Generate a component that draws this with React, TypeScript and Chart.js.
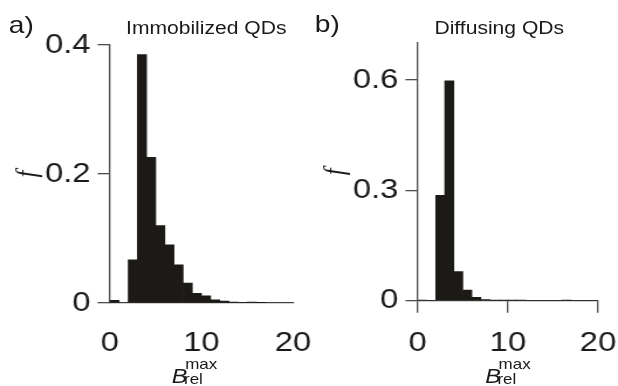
import React, { useEffect, useRef } from 'react';
import { Chart, registerables } from 'chart.js';

Chart.register(...registerables);

// ---- data ----
const binLefts = [0, 1, 2, 3, 4, 5, 6, 7, 8, 9, 10, 11, 12, 13, 14, 15, 16, 17, 18, 19];
const binWidth = 1;
const immobilizedF = [0.004, 0, 0.067, 0.385, 0.226, 0.12, 0.09, 0.059, 0.031, 0.015, 0.011, 0.005, 0.003, 0.0015, 0.001, 0.0015, 0.0005, 0, 0, 0];
const diffusingF = [0.002, 0, 0.286, 0.597, 0.079, 0.029, 0.009, 0.003, 0.001, 0.0005, 0.001, 0.0005, 0, 0, 0, 0, 0.0005, 0, 0, 0];
const xTickValues = [0, 10, 20];
const yTicksA = [0, 0.2, 0.4];
const yTicksB = [0, 0.3, 0.6];
const panelLabels = ['a)', 'b)'];
const panelTitles = ['Immobilized QDs', 'Diffusing QDs'];
const yAxisTitle = 'f';

// ---- style ----
const STRETCH = 618 / 528;
const FONT = "'Liberation Sans', Arial, Helvetica, sans-serif";
const SERIF = "'Liberation Serif', 'Times New Roman', serif";
const BAR = '#1c1a17';
const AXIS = '#4d4d4d';
const TEXT = '#1a1a1a';

type PanelCfg = {
  values: number[];
  yMax: number;
  yTicks: number[];
  canvasLeft: number;
  canvasWidth: number;
  yWidth: number;
  padRight: number;
  padTop: number;
  xHeight: number;
  xLabelPad: number;
  xTickMarks: boolean;
  titlePad: number;
};

function Panel({ cfg }: { cfg: PanelCfg }) {
  const ref = useRef<HTMLCanvasElement | null>(null);
  useEffect(() => {
    if (!ref.current) return;
    const data = binLefts.map((l, i) => ({ x: l + binWidth / 2, y: cfg.values[i] }));
    const chart = new Chart(ref.current, {
      type: 'bar',
      data: {
        datasets: [
          {
            data,
            backgroundColor: BAR,
            borderWidth: 0,
            barPercentage: 1,
            categoryPercentage: 1,
          },
        ],
      },
      options: {
        responsive: false,
        animation: false,
        events: [],
        layout: { padding: { left: 0, right: cfg.padRight, top: cfg.padTop, bottom: 0 } },
        plugins: { legend: { display: false }, tooltip: { enabled: false }, title: { display: false } },
        scales: {
          x: {
            type: 'linear',
            min: 0,
            max: 20,
            offset: false,
            afterBuildTicks: (s: any) => {
              s.ticks = xTickValues.map((v) => ({ value: v }));
            },
            afterFit: (s: any) => {
              s.height = cfg.xHeight;
            },
            grid: {
              display: true,
              drawOnChartArea: false,
              drawTicks: cfg.xTickMarks,
              tickLength: 12,
              offset: false,
              color: AXIS,
              lineWidth: 1.3,
            },
            border: { display: true, color: AXIS, width: 1.3 },
            ticks: {
              font: { family: FONT, size: 28 },
              color: TEXT,
              padding: cfg.xLabelPad,
              maxRotation: 0,
              autoSkip: false,
              callback: (v: any) => String(v),
            },
          },
          y: {
            type: 'linear',
            position: 'left',
            min: 0,
            max: cfg.yMax,
            afterBuildTicks: (s: any) => {
              s.ticks = cfg.yTicks.map((v) => ({ value: v }));
            },
            afterFit: (s: any) => {
              s.width = cfg.yWidth;
            },
            grid: {
              display: true,
              drawOnChartArea: false,
              drawTicks: true,
              tickLength: 10.5,
              color: AXIS,
              lineWidth: 1.3,
            },
            border: { display: true, color: AXIS, width: 1.3 },
            title: {
              display: true,
              text: yAxisTitle,
              color: TEXT,
              font: { family: SERIF, size: 25, style: 'italic' },
              padding: { top: cfg.titlePad, bottom: 0 },
            },
            ticks: {
              font: { family: FONT, size: 28 },
              color: TEXT,
              padding: 6,
              autoSkip: false,
              callback: (v: any) => (Number(v) === 0 ? '0' : Number(v).toFixed(1)),
            },
          },
        },
      } as any,
    });
    return () => chart.destroy();
  }, [cfg]);
  return (
    <canvas
      ref={ref}
      width={cfg.canvasWidth}
      height={386}
      style={{ position: 'absolute', left: cfg.canvasLeft, top: 0, width: cfg.canvasWidth, height: 386 }}
    />
  );
}

const panelA: PanelCfg = {
  values: immobilizedF,
  yMax: 0.4,
  yTicks: yTicksA,
  canvasLeft: 0,
  canvasWidth: 290,
  yWidth: 93.9,
  padRight: 39.7,
  padTop: 45,
  xHeight: 83,
  xLabelPad: 23,
  xTickMarks: false,
  titlePad: 9.8,
};

const panelB: PanelCfg = {
  values: diffusingF,
  yMax: 0.7,
  yTicks: yTicksB,
  canvasLeft: 240,
  canvasWidth: 300,
  yWidth: 116.9,
  padRight: 27.4,
  padTop: 43,
  xHeight: 85.3,
  xLabelPad: 13.5,
  xTickMarks: true,
  titlePad: 32.2,
};

function Txt({ x, baseline, size, children, italic, family }: any) {
  return (
    <div
      style={{
        position: 'absolute',
        left: x,
        top: baseline - 0.8465 * size,
        fontSize: size,
        lineHeight: size + 'px',
        fontFamily: family || FONT,
        fontStyle: italic ? 'italic' : 'normal',
        color: TEXT,
        whiteSpace: 'nowrap',
      }}
    >
      {children}
    </div>
  );
}

function XTitle({ x }: { x: number }) {
  return (
    <>
      <Txt x={x} baseline={383} size={20} italic>
        B
      </Txt>
      <Txt x={x + 11.5} baseline={369} size={14.5}>
        max
      </Txt>
      <Txt x={x + 10.5} baseline={384} size={14.5}>
        rel
      </Txt>
    </>
  );
}

export default function App() {
  useEffect(() => {
    document.body.style.margin = '0';
    document.body.style.overflow = 'hidden';
  }, []);
  return (
    <div style={{ position: 'fixed', left: 0, top: 0, width: 618, height: 386, overflow: 'hidden', background: '#fff' }}>
      <div
        style={{
          position: 'absolute',
          left: 0,
          top: 0,
          width: 528,
          height: 386,
          transform: `scaleX(${STRETCH})`,
          transformOrigin: '0 0',
        }}
      >
        <Panel cfg={panelA} />
        <Panel cfg={panelB} />
        <Txt x={7.5} baseline={33} size={24}>
          {panelLabels[0]}
        </Txt>
        <Txt x={269} baseline={32} size={24}>
          {panelLabels[1]}
        </Txt>
        <Txt x={107.7} baseline={34} size={18}>
          {panelTitles[0]}
        </Txt>
        <Txt x={371.2} baseline={34} size={18}>
          {panelTitles[1]}
        </Txt>
        <XTitle x={146.7} />
        <XTitle x={414.5} />
      </div>
    </div>
  );
}
